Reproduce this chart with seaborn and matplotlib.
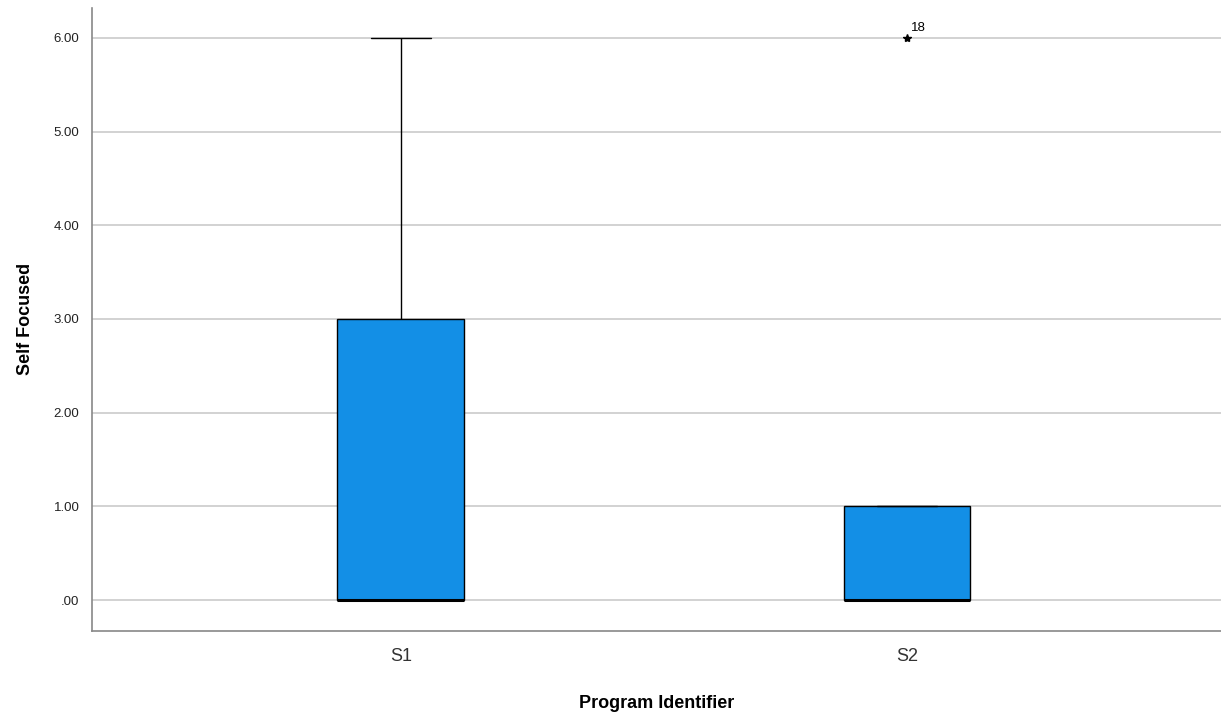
import numpy as np
import pandas as pd
import matplotlib
matplotlib.use("Agg")
import matplotlib.pyplot as plt
import seaborn as sns
from matplotlib.ticker import FuncFormatter

# raw scores per program (read from the box summary)
S1_SCORES = [0, 0, 0, 0, 0, 0, 0, 0, 1, 3, 3, 3, 3, 6]
S2_SCORES = [0, 0, 0, 0, 0, 0, 0, 1, 1, 1, 1, 6]
PROGRAMS = ["S1", "S2"]
OUTLIER_LABELS = {"S2": "18"}
Y_TICKS = [0, 1, 2, 3, 4, 5, 6]

df = pd.DataFrame({
    "Program Identifier": ["S1"] * len(S1_SCORES) + ["S2"] * len(S2_SCORES),
    "Self Focused": S1_SCORES + S2_SCORES,
})

sns.set_theme(style="white")
plt.rcParams["font.family"] = ["Liberation Sans", "DejaVu Sans"]

fig = plt.figure(figsize=(12.21, 7.17), dpi=100)
ax = fig.add_axes([0.0753, 0.12, 0.9247, 0.869])

for y in Y_TICKS:
    ax.axhline(y, color="#cfcfcf", linewidth=1.3, zorder=0)

sns.boxplot(data=df, x="Program Identifier", y="Self Focused", order=PROGRAMS,
            color="#138fe6", saturation=1, width=0.25, whis=1.5,
            linewidth=1.0, linecolor="black", ax=ax,
            boxprops=dict(edgecolor="black", linewidth=1.0),
            medianprops=dict(color="black", linewidth=2.2),
            whiskerprops=dict(color="black", linewidth=1.0),
            capprops=dict(color="black", linewidth=1.0),
            capwidths=0.118,
            flierprops=dict(marker="*", markersize=6, markerfacecolor="black",
                            markeredgecolor="black"))

for i, prog in enumerate(PROGRAMS):
    if prog in OUTLIER_LABELS:
        vals = S2_SCORES if prog == "S2" else S1_SCORES
        ax.annotate(OUTLIER_LABELS[prog], (i, max(vals)), xytext=(3, 5),
                    textcoords="offset points", fontsize=9.5, color="black")

ax.set_xlim(-0.61, 1.62)
ax.set_ylim(-0.33, 6.32)
ax.set_yticks(Y_TICKS)
ax.yaxis.set_major_formatter(FuncFormatter(lambda v, p: f"{v:.2f}".lstrip("0") if v < 1 else f"{v:.2f}"))
ax.tick_params(axis="y", length=0, labelsize=9.5, pad=9, labelcolor="#222222")
ax.tick_params(axis="x", length=0, labelsize=13, pad=12, labelcolor="#333333")

ax.set_xlabel("Program Identifier", fontsize=13, fontweight="bold", labelpad=22, color="black")
ax.set_ylabel("Self Focused", fontsize=13, fontweight="bold", labelpad=14, color="black")

for side in ["top", "right"]:
    ax.spines[side].set_visible(False)
for side in ["left", "bottom"]:
    ax.spines[side].set_color("#888888")
    ax.spines[side].set_linewidth(1.2)

fig.savefig("out.png", dpi=100)
